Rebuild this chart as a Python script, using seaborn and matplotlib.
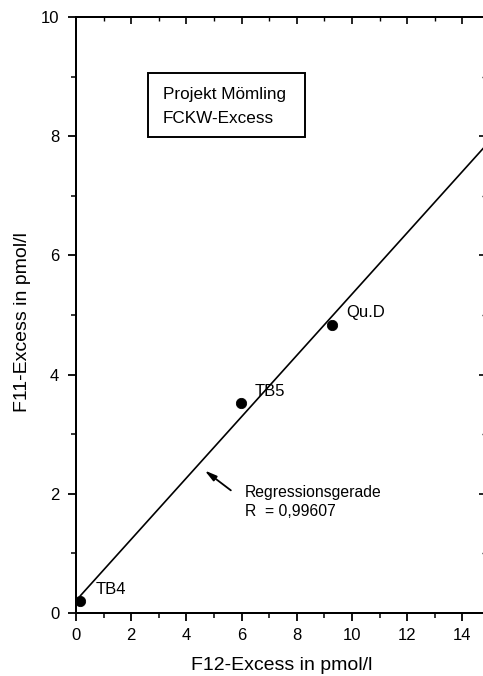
import numpy as np
import pandas as pd
import matplotlib
matplotlib.use("Agg")
import matplotlib.pyplot as plt
import seaborn as sns
from matplotlib.patches import Rectangle

# ---- data ----
labels = ["TB4", "TB5", "Qu.D"]
f12 = [0.15, 5.98, 9.28]
f11 = [0.20, 3.52, 4.83]
label_offsets_x = [0.57, 0.51, 0.50]
label_offsets_y = [0.19, 0.20, 0.22]
xticks = [0, 2, 4, 6, 8, 10, 12, 14]
yticks = [0, 2, 4, 6, 8, 10]
r_text = "R  = 0,99607"
box_lines = ["Projekt Mömling", "FCKW-Excess"]

sns.set_style("ticks", rc={"text.color": "black", "axes.labelcolor": "black",
                           "xtick.color": "black", "ytick.color": "black",
                           "axes.edgecolor": "black"})
plt.rcParams['font.family'] = ['Liberation Sans', 'DejaVu Sans']

df = pd.DataFrame({"F12": f12, "F11": f11, "label": labels})

fig = plt.figure(figsize=(4.83, 6.76), dpi=100)
ax = fig.add_axes([76/483, 1-613/676, 410/483, 596/676])
XMAX = 410/27.6
ax.set_xlim(0, XMAX)
ax.set_ylim(0, 10)

# regression line from the data
slope, icpt = np.polyfit(df["F12"], df["F11"], 1)
xl = np.array([df["F12"].min(), XMAX])
sns.lineplot(x=xl, y=icpt + slope*xl, ax=ax, color="black", lw=1.2)

sns.scatterplot(data=df, x="F12", y="F11", ax=ax, color="black",
                s=55, edgecolor="black", zorder=5)

for lab, x, y, dx, dy in zip(labels, f12, f11, label_offsets_x, label_offsets_y):
    ax.text(x+dx, y+dy, lab, fontsize=12, ha="left", va="center")

# info box
ax.add_patch(Rectangle((2.61, 7.99), 8.30-2.61, 9.06-7.99, fill=False,
                       lw=1.4, edgecolor="black", zorder=4))
ax.text(3.15, 8.70, box_lines[0], fontsize=12.3, ha="left", va="center")
ax.text(3.15, 8.30, box_lines[1], fontsize=12.3, ha="left", va="center")

# regression annotation
ax.annotate("", xy=(4.58, 2.42), xytext=(5.69, 2.03),
            arrowprops=dict(arrowstyle="-|>,head_length=0.7,head_width=0.18",
                            color="black", lw=1.3))
ax.text(6.12, 2.03, "Regressionsgerade", fontsize=11.3, ha="left", va="center")
ax.text(6.12, 1.71, r_text, fontsize=11.3, ha="left", va="center")

# ticks
ax.set_xticks(xticks)
ax.set_yticks(yticks)
ax.set_xticks(np.arange(0, 15, 1), minor=True)
ax.set_yticks(np.arange(0, 11, 1), minor=True)
ax.tick_params(axis="both", which="major", direction="out", length=6, width=1.3,
               labelsize=12, color="black")
ax.tick_params(axis="both", which="minor", direction="out", length=3.5, width=1.1,
               color="black")
ax.tick_params(axis="x", which="major", pad=5)
ax.tick_params(axis="y", which="major", pad=6)

for sp in ax.spines.values():
    sp.set_visible(True)
    sp.set_linewidth(1.4)
    sp.set_color("black")

# top / right inward ticks
axt = ax.twiny()
axt.set_xlim(ax.get_xlim())
axt.set_xticks(xticks)
axt.set_xticks(np.arange(0, 15, 1), minor=True)
axt.tick_params(axis="x", which="major", direction="in", length=5, width=1.2, labeltop=False)
axt.tick_params(axis="x", which="minor", direction="in", length=3, width=1.0)
axr = ax.twinx()
axr.set_ylim(ax.get_ylim())
axr.set_yticks(yticks)
axr.set_yticks(np.arange(0, 11, 1), minor=True)
axr.tick_params(axis="y", which="major", direction="in", length=5, width=1.2, labelright=False)
axr.tick_params(axis="y", which="minor", direction="in", length=3, width=1.0)
for a in (axt, axr):
    for sp in a.spines.values():
        sp.set_linewidth(1.4)
        sp.set_color("black")

ax.set_ylabel("")
ax.set_xlabel("F12-Excess in pmol/l", fontsize=14)
ax.xaxis.set_label_coords((282-76)/410, -(657-613)/596)
fig.text(23/483, 1-322/676, "F11-Excess in pmol/l", fontsize=14,
         rotation=90, ha="center", va="center")

fig.savefig("out.png", dpi=100)
